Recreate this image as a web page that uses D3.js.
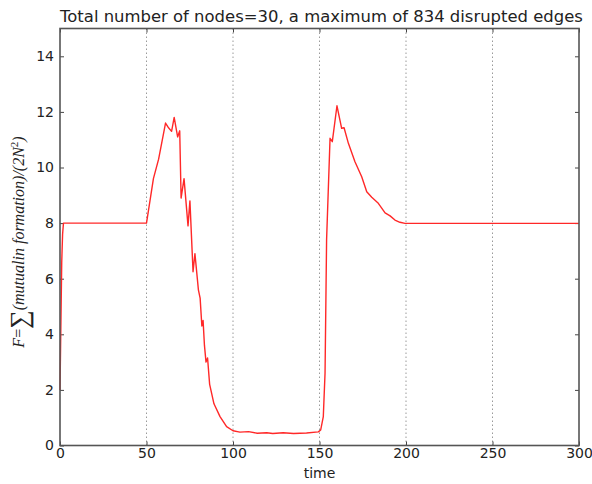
<!DOCTYPE html>
<html>
<head>
<meta charset="utf-8">
<script src="https://cdn.jsdelivr.net/npm/d3@7"></script>
<style>
  html, body { margin: 0; padding: 0; background: #fff; }
  svg { display: block; }
  text { font-family: "DejaVu Sans", sans-serif; fill: #222; }
</style>
</head>
<body>
<svg id="chart" width="592" height="484"></svg>
<script>
// Mean mutual information over time for a 30-node network
const timeSteps = [0, 1, 1.5, 2, 50, 54, 57, 61, 62.5, 64.5, 66, 68, 69.2, 70, 71.7, 74, 75.1, 76.9, 78, 80, 81, 82, 82.7, 83.5, 84.4, 85.3, 86.5, 89, 92.5, 96.3, 100, 104, 109, 114, 119.5, 123, 129, 135, 142.5, 149.3, 150.7, 152.2, 153.2, 154.1, 156.1, 157.4, 160.1, 162.8, 164.2, 166.7, 170.5, 174.4, 177.3, 180.2, 184, 187.9, 190.8, 193.6, 196.5, 199.4, 300];
const infoValues = [2.0, 6.6, 7.6, 8.0, 8.0, 9.6, 10.3, 11.6, 11.45, 11.3, 11.8, 11.1, 11.32, 8.9, 9.6, 7.9, 8.8, 6.25, 6.9, 5.6, 5.3, 4.3, 4.5, 3.6, 3.0, 3.15, 2.2, 1.5, 1.04, 0.68, 0.53, 0.48, 0.5, 0.44, 0.46, 0.43, 0.46, 0.43, 0.45, 0.49, 0.56, 1.04, 2.6, 7.4, 11.05, 10.93, 12.22, 11.41, 11.43, 10.87, 10.21, 9.67, 9.13, 8.93, 8.71, 8.37, 8.26, 8.11, 8.03, 7.99, 7.99];
const xTicks = [0, 50, 100, 150, 200, 250, 300];
const yTicks = [0, 2, 4, 6, 8, 10, 12, 14];
const chartTitle = "Total number of nodes=30, a maximum of 834 disrupted edges";
const xLabel = "time";

const svg = d3.select("#chart");
const plot = { left: 60, right: 579, top: 28.5, bottom: 445.5 };

const x = d3.scaleLinear().domain([0, 300]).range([plot.left, plot.right]);
const y = d3.scaleLinear().domain([0, 15]).range([plot.bottom, plot.top]);

// vertical dotted grid
svg.append("g")
  .selectAll("line")
  .data(xTicks.filter(d => d > 0 && d < 300))
  .join("line")
  .attr("x1", d => x(d)).attr("x2", d => x(d))
  .attr("y1", plot.top).attr("y2", plot.bottom)
  .attr("stroke", "#9a9a9a").attr("stroke-width", 1)
  .attr("stroke-dasharray", "1.5,2.5");

// axes with inward ticks on all four sides
const tickLen = 4;
const bottomAxis = d3.axisBottom(x).tickValues(xTicks).tickSizeInner(-tickLen).tickSizeOuter(0).tickPadding(3);
const topAxis = d3.axisTop(x).tickValues(xTicks).tickSizeInner(-tickLen).tickSizeOuter(0).tickFormat("");
const leftAxis = d3.axisLeft(y).tickValues(yTicks).tickSizeInner(-tickLen).tickSizeOuter(0).tickPadding(6);
const rightAxis = d3.axisRight(y).tickValues(yTicks).tickSizeInner(-tickLen).tickSizeOuter(0).tickFormat("");

function styleAxis(g) {
  g.select(".domain").remove();
  g.selectAll(".tick line").attr("stroke", "#444").attr("stroke-width", 1);
  g.selectAll(".tick text").attr("fill", "#222").style("font-size", "14px").style("font-family", "DejaVu Sans, sans-serif");
}
svg.append("g").attr("transform", `translate(0,${plot.bottom})`).call(bottomAxis).call(styleAxis);
svg.append("g").attr("transform", `translate(0,${plot.top})`).call(topAxis).call(styleAxis);
svg.append("g").attr("transform", `translate(${plot.left},0)`).call(leftAxis).call(styleAxis);
svg.append("g").attr("transform", `translate(${plot.right},0)`).call(rightAxis).call(styleAxis);

// data line
const line = d3.line().x((d, i) => x(timeSteps[i])).y(d => y(d));
svg.append("path")
  .datum(infoValues)
  .attr("d", line)
  .attr("fill", "none")
  .attr("stroke", "#ff2828")
  .attr("stroke-width", 1.4)
  .attr("stroke-linejoin", "round");

// frame
svg.append("rect")
  .attr("x", plot.left).attr("y", plot.top)
  .attr("width", plot.right - plot.left).attr("height", plot.bottom - plot.top)
  .attr("fill", "none").attr("stroke", "#555").attr("stroke-width", 1.6);

// title, sized to span the plot width
const title = svg.append("text")
  .attr("x", (plot.left + plot.right) / 2 + 2).attr("y", 22)
  .attr("text-anchor", "middle")
  .style("font-size", "100px")
  .text(chartTitle);
const tw = title.node().getComputedTextLength();
title.style("font-size", (100 * 523 / tw) + "px");

// x label
svg.append("text")
  .attr("x", (plot.left + plot.right) / 2).attr("y", 478)
  .attr("text-anchor", "middle")
  .style("font-size", "14px")
  .text(xLabel);

// y label (math-style)
const yl = svg.append("text")
  .attr("transform", `translate(24,${(plot.top + plot.bottom) / 2 + 5}) rotate(-90)`)
  .attr("text-anchor", "middle")
  .style("font-family", "Liberation Serif, DejaVu Serif, serif")
  .style("font-size", "16px");
yl.append("tspan").style("font-style", "italic").text("F");
yl.append("tspan").text("=");
yl.append("tspan").style("font-size", "26px").attr("dy", 4).text("∑");
yl.append("tspan").style("font-style", "italic").attr("dy", -4).text("(mutualin formation)/(2N");
yl.append("tspan").style("font-size", "11px").attr("dy", -6).text("2");
yl.append("tspan").style("font-style", "italic").attr("dy", 6).text(")");
</script>
</body>
</html>
